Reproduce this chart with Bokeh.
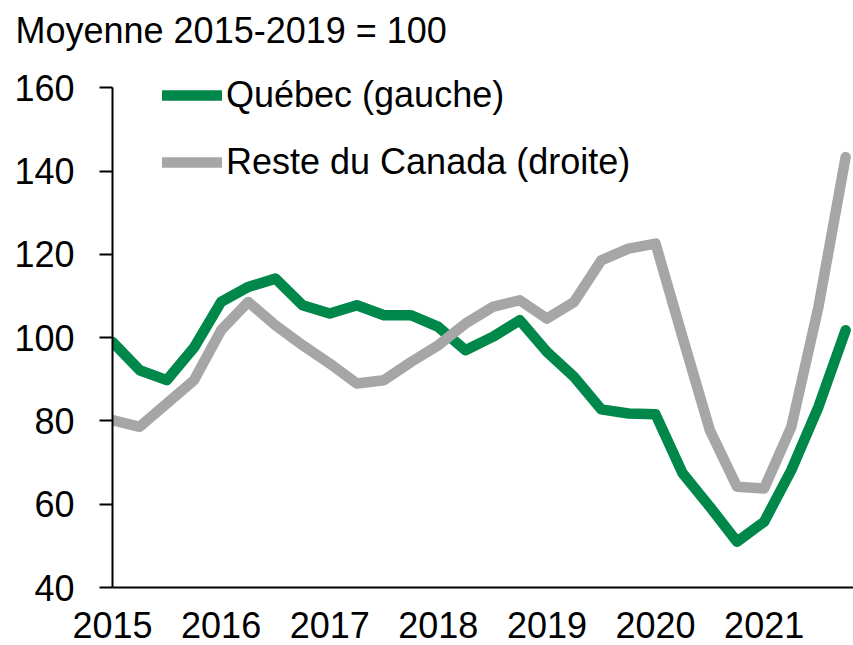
import numpy as np
from bokeh.plotting import figure
from bokeh.models import Range1d, Legend, LegendItem, FixedTicker
from bokeh.embed import file_html
from bokeh.resources import INLINE

# Data (quarterly, 2015T1 - 2021T4), index: moyenne 2015-2019 = 100
years = [2015, 2016, 2017, 2018, 2019, 2020, 2021]
quebec = [99.0, 92.2, 89.8, 97.6, 108.6, 112.2, 114.2, 107.8, 105.8, 107.8,
          105.4, 105.4, 102.6, 97.0, 100.2, 104.2, 96.6, 90.6, 82.8, 81.8,
          81.6, 67.4, 59.4, 51.0, 55.8, 68.2, 83.4, 101.8]
reste_canada = [80.2, 78.6, 84.2, 89.8, 101.8, 108.6, 103.0, 98.2, 93.8, 89.0,
                89.8, 94.2, 98.2, 103.4, 107.4, 109.0, 104.6, 108.6, 118.6, 121.4,
                122.6, 100.0, 77.8, 64.2, 63.8, 78.6, 107.4, 143.4]
y_ticks = [40, 60, 80, 100, 120, 140, 160]
title_text = "Moyenne 2015-2019 = 100"
label_qc = "Québec (gauche)"
label_rc = "Reste du Canada (droite)"

FONT = "Liberation Sans"
GREEN = "#00874A"
GRAY = "#A6A6A6"

x = np.arange(len(quebec))

p = figure(width=853, height=645, output_backend="svg", toolbar_location=None,
           x_range=Range1d(0, 27.29), y_range=Range1d(40, 169.0),
           min_border_left=112, min_border_right=0, min_border_top=50,
           min_border_bottom=58)
p.outline_line_color = None
p.background_fill_color = "white"
p.border_fill_color = "white"
p.xgrid.visible = False
p.ygrid.visible = False

p.title.text = title_text
p.title.text_font = FONT
p.title.text_font_size = "36px"
p.title.text_font_style = "normal"
p.title.text_color = "black"
p.title.align = "left"
p.title.offset = -97
p.title.standoff = 0

r_qc = p.line(x, quebec, line_color=GREEN, line_width=10.5,
              line_cap="round", line_join="round")
r_rc = p.line(x, reste_canada, line_color=GRAY, line_width=10.5,
              line_cap="round", line_join="round")

# axes
p.yaxis.ticker = FixedTicker(ticks=y_ticks)
p.yaxis.bounds = (40, 160)
p.yaxis.minor_tick_line_color = None
p.yaxis.major_tick_in = 0
p.yaxis.major_tick_out = 13
p.yaxis.major_tick_line_width = 2
p.yaxis.axis_line_width = 2
p.yaxis.axis_line_color = "black"
p.yaxis.major_tick_line_color = "black"
p.yaxis.major_label_text_font = FONT
p.yaxis.major_label_text_font_size = "36px"
p.yaxis.major_label_text_color = "black"
p.yaxis.major_label_standoff = 25

p.xaxis.ticker = FixedTicker(ticks=[4 * i for i in range(len(years))])
p.xaxis.major_label_overrides = {4 * i: str(yv) for i, yv in enumerate(years)}
p.xaxis.minor_tick_line_color = None
p.xaxis.major_tick_in = 0
p.xaxis.major_tick_out = 0
p.xaxis.axis_line_width = 2
p.xaxis.axis_line_color = "black"
p.xaxis.major_label_text_font = FONT
p.xaxis.major_label_text_font_size = "36px"
p.xaxis.major_label_text_color = "black"
p.xaxis.major_label_standoff = 24

legend = Legend(items=[LegendItem(label=label_qc, renderers=[r_qc]),
                       LegendItem(label=label_rc, renderers=[r_rc])],
                location=(50, 404), orientation="vertical",
                glyph_width=60, glyph_height=40, label_height=40,
                label_standoff=4, spacing=25, padding=0, margin=0,
                border_line_alpha=0, background_fill_alpha=0,
                label_text_font=FONT, label_text_font_size="36px",
                label_text_color="black")
p.add_layout(legend)

open("out.html", "w").write(file_html(p, INLINE))
